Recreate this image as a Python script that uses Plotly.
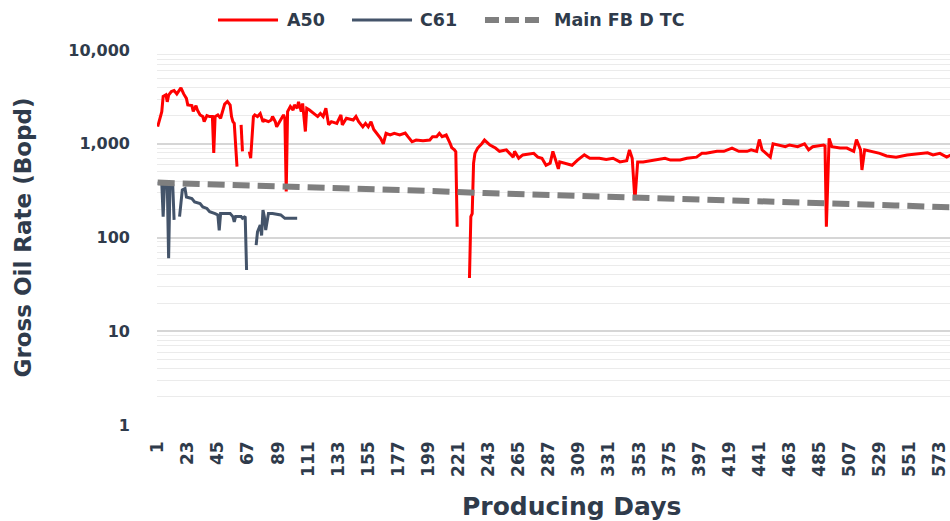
import plotly.graph_objects as go

# ---- Data ----
a50_days = [1, 2, 4, 5, 7, 8, 9, 11, 13, 15, 18, 20, 22, 23, 26, 27, 29, 30, 32, 34,
            35, 37, 39, 41, 42, 43, 45, 47, 48, 50, 52, 54, 55, 56, 57, 58, 59, 60, 62, 63,
            64, 68, 69, 71, 72, 74, 76, 78, 79, 82, 84, 85, 87, 88, 90, 92, 93, 94, 95, 96,
            98, 100, 101, 103, 104, 106, 107, 109, 110, 112, 115, 118, 120, 122, 124, 126, 128, 132, 135, 136,
            139, 144, 146, 148, 151, 153, 155, 157, 159, 161, 164, 166, 168, 171, 174, 178, 182, 184, 187, 190,
            195, 200, 202, 205, 207, 209, 212, 215, 216, 218, 219, 220, 221, 229, 230, 231, 232, 233, 235, 238,
            240, 244, 248, 251, 256, 261, 262, 265, 268, 276, 279, 282, 285, 288, 290, 292, 294, 295, 299, 304,
            308, 313, 317, 324, 329, 334, 339, 344, 346, 348, 350, 352, 356, 363, 372, 376, 383, 388, 395, 399,
            402, 410, 415, 421, 426, 432, 435, 439, 441, 443, 447, 449, 451, 456, 460, 463, 469, 474, 477, 480,
            488, 489, 490, 492, 494, 500, 505, 510, 512, 515, 516, 518, 523, 529, 534, 541, 549, 558, 564, 568,
            573, 578, 581]
a50_rate = [1520, 1700, 2200, 3200, 3330, 2800, 3300, 3600, 3700, 3400, 3950, 3400, 3050, 2600, 2550, 2220, 2550, 2290, 2030, 1950,
            1720, 2000, 1950, 1950, 800, 1950, 2030, 1870, 2100, 2650, 2830, 2590, 1950, 1720, 1650, 1000, 570, None, 1590, 830,
            None, 830, 700, 1950, 2030, 1950, 2100, 1720, 1790, 1720, 1790, 1950, 1720, 1515, 1720, 1950, 2030, 1870, 310, 2200,
            2500, 2290, 2590, 2390, 2800, 2200, 2690, 1350, 2390, 2290, 2100, 1950, 2100, 1950, 2390, 1590, 1720, 1650, 2030, 1590,
            1870, 1790, 1950, 1720, 1515, 1650, 1515, 1720, 1420, 1290, 1140, 1000, 1290, 1240, 1290, 1240, 1300, 1190, 1050, 1096,
            1080, 1096, 1190, 1190, 1290, 1190, 1240, 1000, 910, 860, 820, 130, None, 37, 167, 180, 620, 790, 900, 1000,
            1096, 970, 900, 830, 860, 720, 830, 700, 760, 790, 720, 700, 590, 620, 830, 670, 540, 640, 620, 590,
            670, 760, 700, 700, 680, 700, 640, 660, 860, 700, 251, 640, 640, 670, 700, 670, 670, 700, 720, 790,
            790, 830, 830, 900, 830, 830, 860, 830, 1110, 860, 760, 720, 1000, 970, 930, 970, 930, 1000, 860, 930,
            970, 950, 130, 1140, 930, 900, 900, 830, 1110, 860, 525, 860, 830, 790, 740, 720, 760, 790, 800, 760,
            790, 720, 760]

c61_days = [1, 3, 4, 5, 6, 8, 9, 10, 12, 13, 14, 17, 19, 21, 22, 26, 28, 32, 34, 37,
            39, 43, 45, 46, 47, 54, 56, 57, 58, 62, 63, 65, 66, 67, 73, 74, 76, 77, 78, 79,
            80, 82, 85, 91, 94, 98, 103]
c61_rate = [377, 377, 377, 167, 363, 377, 60, 377, 363, 154, None, 167, 321, 333, 270, 260, 240, 230, 212, 204,
            188, 180, 174, 119, 180, 180, 167, 147, 167, 167, 160, 167, 45, None, 83, 115, 136, 105, 196, 167,
            120, 180, 180, 174, 160, 160, 160]

tc_days = [1, 30, 60, 90, 120, 150, 180, 210, 240, 270, 300, 330, 360, 390, 420, 450, 480, 510, 540, 570, 581]
tc_rate = [385, 375, 365, 355, 343, 333, 321, 310, 298, 288, 280, 272, 262, 256, 250, 242, 235, 227, 220, 213, 210]

x_ticks = list(range(1, 574, 22))
y_ticks = [1, 10, 100, 1000, 10000]
y_tick_text = ["1", "10", "100", "1,000", "10,000"]

series_names = ["A50", "C61", "Main FB D TC"]
series_colors = ["#FF0000", "#44546A", "#7F7F7F"]

FONT = "DejaVu Sans"
TXT = "#2F3B4B"

fig = go.Figure()
fig.add_trace(go.Scatter(x=a50_days, y=a50_rate, name=series_names[0], mode="lines",
                         line=dict(color=series_colors[0], width=3), connectgaps=False, showlegend=False))
fig.add_trace(go.Scatter(x=c61_days, y=c61_rate, name=series_names[1], mode="lines",
                         line=dict(color=series_colors[1], width=3), connectgaps=False, showlegend=False))
fig.add_trace(go.Scatter(x=tc_days, y=tc_rate, name=series_names[2], mode="lines",
                         line=dict(color=series_colors[2], width=6, dash="17px,8px"), showlegend=False))

# ---- custom legend (longer symbol lines like the reference) ----
leg_y = 1.08
leg_items = [  # (line x0, line x1, text x) in paper fraction
    (0.0769, 0.1526, 0.1614),
    (0.2459, 0.3216, 0.3291),
    (0.4136, 0.4830, 0.4981),
]
for i, (x0, x1, tx) in enumerate(leg_items):
    if i < 2:
        fig.add_shape(type="line", xref="paper", yref="paper", x0=x0, x1=x1, y0=leg_y, y1=leg_y,
                      line=dict(color=series_colors[i], width=3))
    else:
        fig.add_shape(type="line", xref="paper", yref="paper", x0=x0, x1=x1, y0=leg_y, y1=leg_y,
                      line=dict(color=series_colors[i], width=6, dash="14px,6px"))
    fig.add_annotation(text=series_names[i], xref="paper", yref="paper", x=tx, y=leg_y,
                       xanchor="left", yanchor="middle", showarrow=False,
                       font=dict(family=FONT, size=17.5, color=TXT, weight="bold"))

# x-axis title (the reference's plot area is cropped on the right, so its title sits right of centre)
fig.add_annotation(text="Producing Days", xref="paper", yref="paper", x=0.523, y=-0.216,
                   xanchor="center", yanchor="middle", showarrow=False,
                   font=dict(family=FONT, size=25, color=TXT, weight="bold"))

fig.update_layout(
    width=950, height=521,
    margin=dict(l=157, r=0, t=50, b=96),
    plot_bgcolor="white", paper_bgcolor="white",
    font=dict(family=FONT, color=TXT, size=16),
    showlegend=False,
)
fig.update_xaxes(
    type="linear", range=[0.5, 580.4],
    tickmode="array", tickvals=x_ticks, ticktext=[str(t) for t in x_ticks],
    tickangle=-90, tickfont=dict(family=FONT, size=17, color=TXT, weight="bold"),
    showgrid=False, zeroline=False, showline=False, ticks="", ticklabelstandoff=12,
)
fig.update_yaxes(
    type="log", range=[0, 4],
    tickmode="array", tickvals=y_ticks, ticktext=y_tick_text,
    tickfont=dict(family=FONT, size=16, color=TXT, weight="bold"),
    showgrid=True, gridcolor="#D6D6D6", gridwidth=2,
    minor=dict(showgrid=True, gridcolor="#EBEBEB", gridwidth=1.3, dtick="D1", ticks=""),
    zeroline=False, showline=False, ticks="", ticklabelstandoff=26,
    title=dict(text="Gross Oil Rate (Bopd)", font=dict(family=FONT, size=23, color=TXT, weight="bold"), standoff=30),
)

fig.write_html("out.html", config={"displayModeBar": False},
               post_script="document.body.style.margin='0';document.body.style.overflow='hidden';")
